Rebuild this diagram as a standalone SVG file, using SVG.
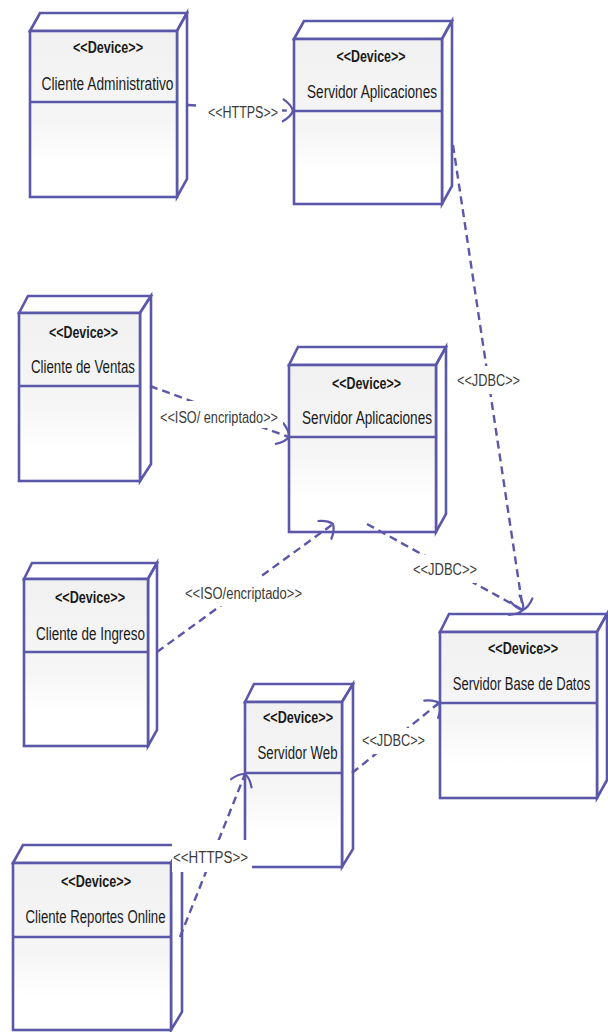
<svg xmlns="http://www.w3.org/2000/svg" width="608" height="1032" viewBox="0 0 608 1032">
  <defs>
    <linearGradient id="faceFill" x1="0" y1="0" x2="0" y2="1">
      <stop offset="0" stop-color="#f1f1f2"/>
      <stop offset="0.55" stop-color="#f6f6f7"/>
      <stop offset="0.8" stop-color="#ffffff"/>
    </linearGradient>
    <marker id="openArrow" markerUnits="userSpaceOnUse" markerWidth="24" markerHeight="28" viewBox="-12 -14 24 28" refX="0" refY="0" orient="auto">
      <path d="M-10,-11 Q-2,-6 0,0 Q-2,6 -10,11" fill="none" stroke="#5b57a9" stroke-width="2.2" stroke-linecap="round"/>
    </marker>
    <style>
      .face { fill: url(#faceFill); stroke: #5b57a9; stroke-width: 2.6; stroke-linejoin: miter; }
      .side { fill: #ffffff; stroke: #5b57a9; stroke-width: 2.6; stroke-linejoin: miter; }
      .div { stroke: #5b57a9; stroke-width: 2.6; }
      .stereo { font-family: "Liberation Sans", Arial, sans-serif; font-size: 16px; font-weight: bold; fill: #1a1a1a; text-anchor: middle; }
      .name { font-family: "Liberation Sans", Arial, sans-serif; font-size: 17.5px; fill: #1a1a1a; text-anchor: middle; }
      .conn { fill: none; stroke: #5b57a9; stroke-width: 2.4; stroke-dasharray: 8 5; marker-end: url(#openArrow); }
      .lbl { font-family: "Liberation Sans", Arial, sans-serif; font-size: 16px; fill: #3a3a3a; text-anchor: middle; }
      .lblbg { fill: #ffffff; }
    </style>
  </defs>
  <rect width="608" height="1032" fill="#ffffff"/>

  <!-- Cliente Administrativo -->
  <g id="cliente-administrativo">
    <polygon class="side" points="30,31 40,13 187,13 177,31"/>
    <polygon class="side" points="177,31 187,13 187,179 177,197"/>
    <rect class="face" x="30" y="31" width="147" height="166"/>
    <line class="div" x1="30" y1="102" x2="177" y2="102"/>
    <text class="stereo" x="108" y="52.5" textLength="70" lengthAdjust="spacingAndGlyphs">&lt;&lt;Device&gt;&gt;</text>
    <text class="name" x="107.5" y="90" textLength="132" lengthAdjust="spacingAndGlyphs">Cliente Administrativo</text>
  </g>

  <!-- Servidor Aplicaciones (upper) -->
  <g id="servidor-aplicaciones-1">
    <polygon class="side" points="294,39 304,21 452,21 442,39"/>
    <polygon class="side" points="442,39 452,21 452,186 442,204"/>
    <rect class="face" x="294" y="39" width="148" height="165"/>
    <line class="div" x1="294" y1="111" x2="442" y2="111"/>
    <text class="stereo" x="371" y="61.5" textLength="69" lengthAdjust="spacingAndGlyphs">&lt;&lt;Device&gt;&gt;</text>
    <text class="name" x="372" y="98" textLength="130" lengthAdjust="spacingAndGlyphs">Servidor Aplicaciones</text>
  </g>

  <!-- Cliente de Ventas -->
  <g id="cliente-ventas">
    <polygon class="side" points="19,313 28,296 151,296 140,313"/>
    <polygon class="side" points="140,313 151,296 151,464 140,481"/>
    <rect class="face" x="19" y="313" width="121" height="168"/>
    <line class="div" x1="19" y1="386" x2="140" y2="386"/>
    <text class="stereo" x="83.5" y="337.5" textLength="69" lengthAdjust="spacingAndGlyphs">&lt;&lt;Device&gt;&gt;</text>
    <text class="name" x="83" y="373" textLength="104" lengthAdjust="spacingAndGlyphs">Cliente de Ventas</text>
  </g>

  <!-- Servidor Aplicaciones (middle) -->
  <g id="servidor-aplicaciones-2">
    <polygon class="side" points="289,365 298,347 446,347 436,365"/>
    <polygon class="side" points="436,365 446,347 446,514 436,532"/>
    <rect class="face" x="289" y="365" width="147" height="167"/>
    <line class="div" x1="289" y1="437" x2="436" y2="437"/>
    <text class="stereo" x="366.5" y="388.5" textLength="69" lengthAdjust="spacingAndGlyphs">&lt;&lt;Device&gt;&gt;</text>
    <text class="name" x="367" y="424" textLength="130" lengthAdjust="spacingAndGlyphs">Servidor Aplicaciones</text>
  </g>

  <!-- Cliente de Ingreso -->
  <g id="cliente-ingreso">
    <polygon class="side" points="24,579 32,563 157,563 148,579"/>
    <polygon class="side" points="148,579 157,563 157,730 148,746"/>
    <rect class="face" x="24" y="579" width="124" height="167"/>
    <line class="div" x1="24" y1="652" x2="148" y2="652"/>
    <text class="stereo" x="90" y="602.5" textLength="70" lengthAdjust="spacingAndGlyphs">&lt;&lt;Device&gt;&gt;</text>
    <text class="name" x="90.5" y="640" textLength="109" lengthAdjust="spacingAndGlyphs">Cliente de Ingreso</text>
  </g>

  <!-- Servidor Base de Datos -->
  <g id="servidor-base-datos">
    <polygon class="side" points="440,632 449,614 607,614 597,632"/>
    <polygon class="side" points="597,632 607,614 607,780 597,798"/>
    <rect class="face" x="440" y="632" width="157" height="166"/>
    <line class="div" x1="440" y1="703" x2="597" y2="703"/>
    <text class="stereo" x="523" y="653.5" textLength="70" lengthAdjust="spacingAndGlyphs">&lt;&lt;Device&gt;&gt;</text>
    <!-- long name: narrowed with a horizontal scale so it stays inside the face -->
    <text class="name" transform="translate(521.5,690) scale(0.79,1)" x="0" y="0" textLength="174" lengthAdjust="spacingAndGlyphs">Servidor Base de Datos</text>
  </g>

  <!-- Servidor Web -->
  <g id="servidor-web">
    <polygon class="side" points="245,702 254,684 353,684 342,702"/>
    <polygon class="side" points="342,702 353,684 353,849 342,867"/>
    <rect class="face" x="245" y="702" width="97" height="165"/>
    <line class="div" x1="245" y1="773" x2="342" y2="773"/>
    <text class="stereo" x="298" y="722.5" textLength="70" lengthAdjust="spacingAndGlyphs">&lt;&lt;Device&gt;&gt;</text>
    <text class="name" x="297.5" y="759" textLength="80" lengthAdjust="spacingAndGlyphs">Servidor Web</text>
  </g>

  <!-- Cliente Reportes Online -->
  <g id="cliente-reportes-online">
    <polygon class="side" points="13,863 23,845 182,845 171,863"/>
    <polygon class="side" points="171,863 182,845 182,1012 171,1030"/>
    <rect class="face" x="13" y="863" width="158" height="167"/>
    <line class="div" x1="13" y1="937" x2="171" y2="937"/>
    <text class="stereo" x="96" y="886.5" textLength="70" lengthAdjust="spacingAndGlyphs">&lt;&lt;Device&gt;&gt;</text>
    <text class="name" x="95.5" y="923" textLength="140" lengthAdjust="spacingAndGlyphs">Cliente Reportes Online</text>
  </g>

  <!-- communication paths -->
  <g id="connectors">
    <path class="conn" d="M188,105 L293,111"/>
    <path class="conn" d="M453,145 L523,610"/>
    <path class="conn" d="M150,386 L289,437"/>
    <path class="conn" d="M157,652 L333,524"/>
    <path class="conn" d="M367,524 L523,610"/>
    <path class="conn" d="M352,773 L439,703"/>
    <path class="conn" d="M180,937 L245,774"/>
  </g>

  <!-- path labels, each on a white plate -->
  <g id="labels">
    <rect class="lblbg" x="201" y="99" width="81" height="24"/>
    <text class="lbl" x="243" y="117.5" textLength="70" lengthAdjust="spacingAndGlyphs">&lt;&lt;HTTPS&gt;&gt;</text>

    <rect class="lblbg" x="452" y="366" width="74" height="28"/>
    <text class="lbl" x="488.5" y="385.5" textLength="63" lengthAdjust="spacingAndGlyphs">&lt;&lt;JDBC&gt;&gt;</text>

    <rect class="lblbg" x="156" y="401" width="127" height="27"/>
    <text class="lbl" x="219" y="422.5" textLength="118" lengthAdjust="spacingAndGlyphs">&lt;&lt;ISO/ encriptado&gt;&gt;</text>

    <rect class="lblbg" x="182" y="578" width="124" height="28"/>
    <text class="lbl" x="243.5" y="598.5" textLength="117" lengthAdjust="spacingAndGlyphs">&lt;&lt;ISO/encriptado&gt;&gt;</text>

    <rect class="lblbg" x="410" y="555" width="70" height="28"/>
    <text class="lbl" x="445" y="574.5" textLength="64" lengthAdjust="spacingAndGlyphs">&lt;&lt;JDBC&gt;&gt;</text>

    <rect class="lblbg" x="359" y="728" width="68" height="26"/>
    <text class="lbl" x="393.5" y="745.5" textLength="63" lengthAdjust="spacingAndGlyphs">&lt;&lt;JDBC&gt;&gt;</text>

    <rect class="lblbg" x="172" y="840" width="80" height="32"/>
    <text class="lbl" x="210.5" y="862.5" textLength="75" lengthAdjust="spacingAndGlyphs">&lt;&lt;HTTPS&gt;&gt;</text>
  </g>
</svg>
